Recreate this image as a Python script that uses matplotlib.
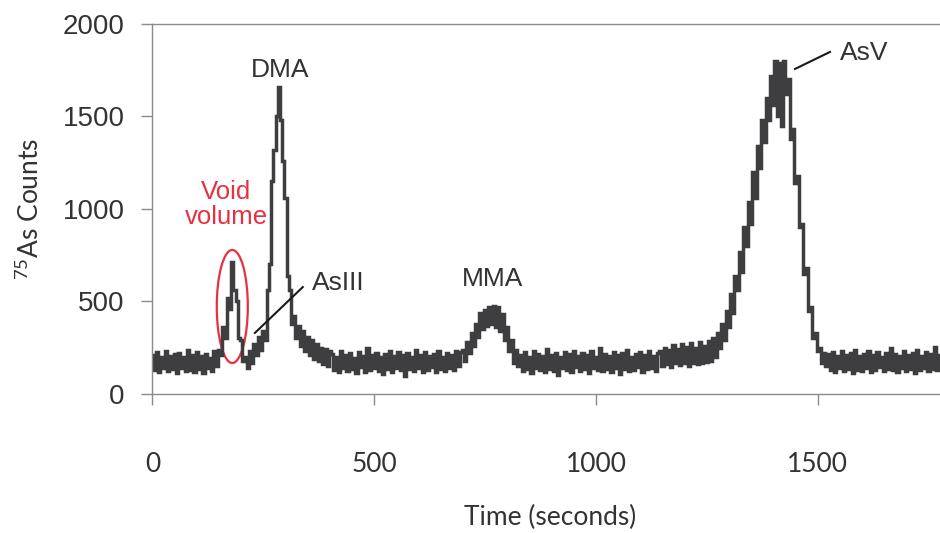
import numpy as np
import matplotlib
matplotlib.use("Agg")
import matplotlib.pyplot as plt
from matplotlib.patches import Ellipse

SAMPLE_S = 5
baseline_start = [210, 130, 225, 120, 200, 140, 235, 125, 205, 135, 215, 115, 220, 140, 200,
                  125, 240, 130, 210, 120, 225, 135, 205, 115, 215, 140, 195, 125, 230, 150]
void_peak = [240, 210, 360, 300, 520, 460, 715, 560, 500, 300, 290, 180, 200, 140]
asiii_dma_peak = [230, 170, 270, 210, 310, 240, 340, 290, 560, 700,
                  1150, 1320, 1500, 1660, 1480, 1260, 1060, 640, 560, 380,
                  420, 300, 370, 260, 340, 230, 310, 210, 290, 190,
                  270, 180, 250, 160, 245, 150, 230]
baseline_mid1 = [215, 130, 200, 120, 235, 140, 210, 125, 220, 135,
                 195, 115, 225, 145, 205, 120, 250, 130, 210, 140,
                 220, 125, 200, 110, 215, 135, 230, 120, 205, 140,
                 225, 130, 210, 95, 220, 135, 200, 125, 240, 140,
                 210, 120, 225, 130, 205, 145, 215, 120, 230, 135,
                 200, 125, 220, 140, 210, 130, 235, 150, 225]
mma_peak = [240, 180, 280, 220, 330, 260, 380, 310, 440, 350,
            455, 370, 470, 380, 475, 360, 470, 340, 430, 290,
            360, 230, 290, 170, 240, 150]
baseline_mid2 = [210, 125, 225, 135, 200, 115, 230, 140, 215, 130,
                 205, 120, 245, 135, 210, 125, 220, 100, 200, 140,
                 225, 130, 215, 120, 235, 145, 205, 125, 220, 135,
                 210, 115, 230, 140, 200, 130, 250, 125, 215, 135,
                 205, 120, 225, 140, 210, 110, 220, 135, 240, 125,
                 200, 130, 215, 145, 225, 120, 210, 135, 230, 140,
                 205, 125, 220]
baseline_bump = [235, 150, 250, 160, 240, 145, 265, 165, 245, 155, 270, 170,
                 255, 150, 275, 165, 250, 160, 280, 170, 260, 175, 285, 180]
asv_peak = [300, 200, 330, 250, 380, 290, 450, 360, 540, 440,
            640, 560, 770, 660, 900, 800, 1040, 920, 1200, 1060,
            1340, 1220, 1480, 1360, 1600, 1480, 1720, 1560, 1800, 1500,
            1790, 1450, 1800, 1620, 1700, 1380, 1430, 1140, 1180, 900,
            920, 650, 680, 450, 470, 300, 330, 230, 250, 170,
            220, 150]
baseline_end = [215, 130, 225, 120, 205, 140, 230, 125, 210, 135,
                220, 115, 240, 130, 205, 125, 215, 140, 235, 120,
                210, 130, 225, 145, 200, 125, 220, 135, 250, 130,
                215, 120, 205, 140, 230, 125, 210, 135, 220, 115,
                240, 130, 205, 140, 225, 125, 215, 135, 255, 130,
                210]

counts = np.array(baseline_start + void_peak + asiii_dma_peak + baseline_mid1 + mma_peak
                  + baseline_mid2 + baseline_bump + asv_peak + baseline_end, dtype=float)
time_s = np.arange(len(counts)) * SAMPLE_S

x_ticks = [0, 500, 1000, 1500]
y_ticks = [0, 500, 1000, 1500, 2000]

# ---- figure ----
fig = plt.figure(figsize=(9.4, 5.33), dpi=100)
ax = fig.add_axes([0.1622, 0.2608, 0.8378, 0.6942])

LINE_C = "#3e3e41"
TEXT_C = "#333333"
AXIS_C = "#8a8a8a"

ax.plot(time_s, counts, color=LINE_C, lw=2.5, drawstyle="steps-mid",
        solid_joinstyle="miter")

ax.set_xlim(0, 1776)
ax.set_ylim(0, 2000)
ax.set_xticks(x_ticks)
ax.set_yticks(y_ticks)

for s in ["left", "bottom", "top"]:
    ax.spines[s].set_color(AXIS_C)
    ax.spines[s].set_linewidth(1.0)
ax.spines["right"].set_visible(False)

ax.tick_params(axis="y", direction="out", length=8, width=1.0, color=AXIS_C,
               pad=12, labelsize=20, labelcolor=TEXT_C)
ax.tick_params(axis="x", direction="out", length=8, width=1.0, color=AXIS_C,
               pad=34, labelsize=19, labelcolor=TEXT_C)
for lab in ax.get_yticklabels():
    lab.set_fontfamily("Liberation Sans")
for lab in ax.get_xticklabels():
    lab.set_fontfamily("Lato")

ax.set_xlabel("Time (seconds)", fontsize=19, family="Lato", color=TEXT_C, va="center")
ax.xaxis.set_label_coords(0.505, -0.335)
ax.set_ylabel(r"$\mathregular{^{75}}$As Counts", fontsize=19, family="Lato",
              color=TEXT_C, va="center")
ax.yaxis.set_label_coords(-0.1556, 0.5)

ANN = dict(fontsize=19, family="Liberation Sans", color=TEXT_C)
ax.text(288, 1751, "DMA", ha="center", va="center", **ANN)
ax.text(768, 622, "MMA", ha="center", va="center", **ANN)
ax.text(360, 600, "AsIII", ha="left", va="center", **ANN)
ax.text(1550, 1843, "AsV", ha="left", va="center", **ANN)
ax.text(166, 1022, "Void\nvolume", ha="center", va="center", fontsize=18.5,
        family="Liberation Sans", color="#e8303f", linespacing=1.05)

ax.plot([339, 231], [578, 330], color="#1a1a1a", lw=1.5)
ax.plot([1528, 1449], [1849, 1757], color="#1a1a1a", lw=1.5)

ax.add_patch(Ellipse((180, 473), width=70, height=611, fill=False,
                     edgecolor="#e8303f", lw=1.6))

fig.savefig("out.png", dpi=100)
